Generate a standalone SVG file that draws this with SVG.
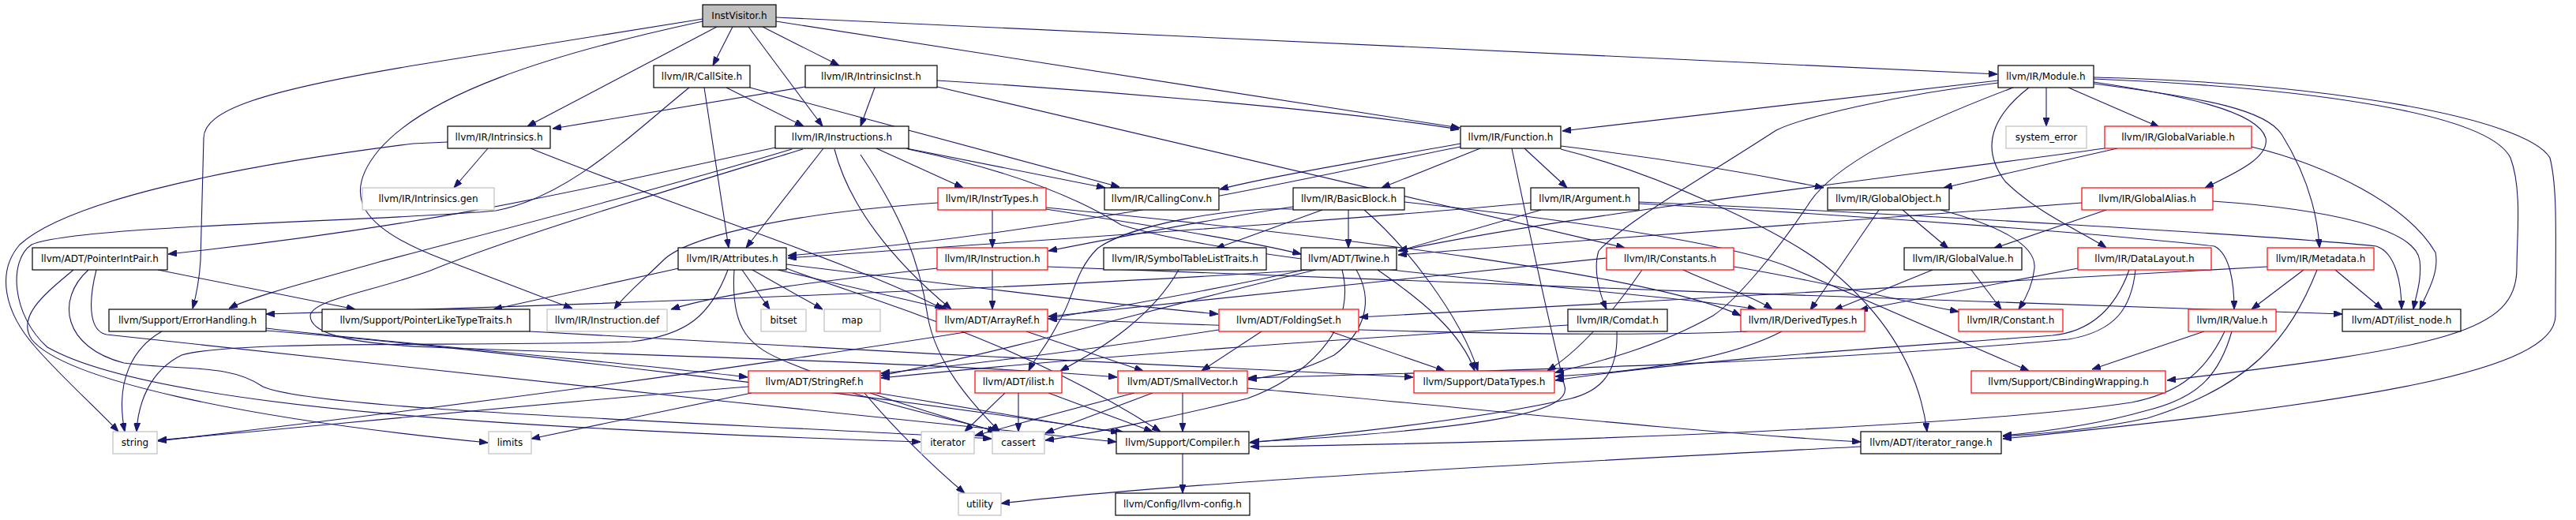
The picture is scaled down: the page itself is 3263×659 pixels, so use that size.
<svg xmlns="http://www.w3.org/2000/svg" width="3263" height="659" viewBox="0 0 3263 659">
<style>
rect{fill:#fff;stroke:#000;stroke-width:1.2}
rect.r{stroke:#ff0000}
rect.g{stroke:#bfbfbf}
rect.root{fill:#bfbfbf}
text{font-family:"DejaVu Sans",sans-serif;font-size:12px;text-anchor:middle;fill:#000}
#edges path{fill:none;stroke:#191970;stroke-width:1.1;marker-end:url(#a)}
</style>
<defs>
<marker id="a" markerWidth="11" markerHeight="8" refX="11" refY="4" orient="auto" markerUnits="userSpaceOnUse"><path d="M0,0 L11,4 L0,8 z" fill="#191970" stroke="#191970"/></marker>
</defs>
<rect x="0" y="0" width="3263" height="659" style="fill:#fff;stroke:none"/>
<g id="edges">
<!-- InstVisitor -->
<path d="M908,34 L668,160"/>
<path d="M928,34 L903,83"/>
<path d="M948,34 L1042,160"/>
<path d="M966,34 L1063,83"/>
<path d="M983,27 L1849,162"/>
<path d="M983,22 L2530,94"/>
<path d="M890,24 L530,82 C330,115 258,140 258,175 L254,330 Q252,362 244,391"/>
<path d="M890,27 C690,70 540,120 480,190 C430,250 460,290 560,328 L725,391"/>
<!-- CallSite -->
<path d="M920,111 L1018,160"/>
<path d="M892,111 L923,314"/>
<path d="M950,111 L1418,237"/>
<path d="M873,111 C800,170 720,250 628,267 C500,280 100,285 40,310 C10,330 15,400 60,440 C200,520 700,545 1166,560"/>
<!-- Intrinsics -->
<path d="M618,188 L575,238"/>
<path d="M672,188 C850,260 1100,340 1195,392"/>
<path d="M567,180 L523,182 C260,215 80,260 25,310 C-5,345 5,395 45,440 C80,480 120,515 150,547"/>
<!-- Instructions -->
<path d="M1110,188 L1220,238"/>
<path d="M1148,188 L1400,238"/>
<path d="M1043,188 L945,314"/>
<path d="M982,187 C760,235 560,285 213,322"/>
<path d="M1003,189 C800,250 600,300 480,332 C400,355 320,375 290,391"/>
<path d="M1017,189 C850,240 650,300 545,343 C470,370 395,380 393,400 C393,420 430,435 545,440 C800,450 1200,460 1415,478"/>
<path d="M1057,189 C1075,260 1130,330 1205,392"/>
<path d="M1090,196 C1140,270 1165,330 1175,400 C1185,460 1230,510 1266,547"/>
<path d="M1150,189 C1300,220 1380,260 1420,285 C1600,340 2100,370 2225,392"/>
<!-- IntrinsicInst -->
<path d="M1020,110 L700,163"/>
<path d="M1108,111 L1090,160"/>
<path d="M1187,102 C1400,115 1700,140 1848,164"/>
<path d="M1187,110 L2058,314"/>
<!-- Function -->
<path d="M1850,182 C1750,200 1600,225 1545,240"/>
<path d="M1850,186 C1700,215 1400,290 998,324"/>
<path d="M1875,188 L1750,238"/>
<path d="M1915,188 C1930,260 1960,400 1982,490 C1990,520 1900,540 1640,557 L1584,560"/>
<path d="M1931,188 L1985,238"/>
<path d="M1977,185 C2100,200 2220,220 2310,238"/>
<path d="M1977,189 C2100,220 2250,290 2310,335 C2380,390 2430,460 2441,547"/>
<!-- Module -->
<path d="M2531,102 L1979,166"/>
<path d="M2531,105 C2400,120 2280,150 2250,165 C2150,230 2060,280 2025,318 C2018,340 2025,370 2035,392"/>
<path d="M2550,111 C2420,160 2320,210 2290,260 C2250,320 2200,380 2170,400 C2100,440 2020,460 1970,472"/>
<path d="M2570,111 C2520,150 2510,190 2540,230 C2580,270 2640,295 2668,314"/>
<path d="M2592,111 L2592,160"/>
<path d="M2620,111 L2735,161"/>
<path d="M2652,104 C2760,120 2860,140 2870,175 C2875,200 2830,220 2793,238"/>
<path d="M2652,106 C2800,125 2870,140 2890,170 C2915,210 2935,260 2938,314"/>
<path d="M2652,100 C2900,110 3150,140 3180,200 C3195,240 3188,300 3188,340 C3188,420 3100,440 2745,482"/>
<path d="M2652,98 C2950,105 3200,150 3230,200 C3240,240 3237,300 3237,400 C3237,470 3000,510 2537,556"/>
<!-- GlobalVariable -->
<path d="M2682,188 L2462,238"/>
<path d="M2666,188 C2400,225 2000,270 1771,318"/>
<path d="M2852,186 C2950,210 3050,260 3085,320 C3090,345 3075,370 3065,392"/>
<!-- GlobalAlias -->
<path d="M2668,266 L2525,315"/>
<path d="M2803,255 C2950,265 3060,290 3065,330 C3068,355 3060,375 3057,392"/>
<path d="M2637,257 C2400,275 2000,305 1771,323"/>
<!-- GlobalObject -->
<path d="M2410,266 L2468,315"/>
<path d="M2380,266 L2293,393"/>
<path d="M2458,266 C2530,285 2580,310 2577,340 C2575,360 2565,380 2557,392"/>
<!-- GlobalValue -->
<path d="M2497,342 L2535,392"/>
<path d="M2448,342 L2323,393"/>
<!-- DataLayout -->
<path d="M2632,340 L2355,393"/>
<path d="M2697,342 C2680,390 2650,420 2600,425 C2400,440 2150,455 1970,482"/>
<path d="M2705,342 C2700,390 2680,420 2620,430 C2300,460 1900,470 1581,479"/>
<!-- Metadata -->
<path d="M2918,342 L2852,392"/>
<path d="M2958,342 L3018,392"/>
<path d="M2935,342 C2900,430 2850,490 2720,530 C2650,545 2580,550 2537,553"/>
<path d="M2872,338 C2600,355 2200,375 1722,402"/>
<!-- Value -->
<path d="M2792,420 L2650,468"/>
<path d="M2827,420 C2810,480 2780,505 2720,520 C2650,540 2580,548 2537,552"/>
<path d="M2818,420 C2790,480 2750,500 2700,510 C2500,540 2000,560 1584,566"/>
<!-- Argument -->
<path d="M1952,266 L1772,318"/>
<path d="M1939,257 C1700,280 1300,305 998,327"/>
<path d="M2076,256 C2400,270 2900,300 3010,312 C3035,320 3042,360 3042,392"/>
<path d="M2076,258 C2400,275 2700,300 2805,312 C2825,322 2830,360 2830,392"/>
<!-- BasicBlock -->
<path d="M1708,266 L1708,314"/>
<path d="M1638,262 C1550,275 1420,300 1328,318"/>
<path d="M1675,266 L1540,315"/>
<path d="M1728,266 C1780,310 1850,400 1872,470"/>
<path d="M1779,256 C2000,280 2200,310 2270,340 L2570,470"/>
<path d="M1638,265 C1560,262 1430,285 1390,315 C1360,345 1360,380 1340,410 C1325,440 1310,455 1303,470"/>
<!-- SymbolTableListTraits -->
<path d="M1493,342 C1460,400 1400,440 1343,470"/>
<!-- Twine -->
<path d="M1660,342 C1300,365 800,385 337,398"/>
<path d="M1667,342 C1500,380 1300,440 1116,476"/>
<path d="M1718,342 C1740,380 1730,420 1690,450 C1650,470 1620,476 1581,481"/>
<path d="M1745,342 C1800,380 1850,420 1868,470"/>
<path d="M1652,342 C1300,420 700,500 200,559"/>
<path d="M1700,342 C1720,420 1650,480 1580,505 C1480,530 1380,550 1324,558"/>
<!-- Comdat -->
<path d="M1986,412 C1700,430 1400,450 1116,479"/>
<path d="M2048,420 C2050,470 2030,495 1990,505 C1880,530 1700,550 1583,561"/>
<!-- Constants -->
<path d="M2035,327 C1800,350 1500,385 1328,401"/>
<path d="M2196,338 C2300,355 2400,380 2481,395"/>
<path d="M2132,342 C2170,360 2220,375 2245,392"/>
<path d="M2080,342 C2040,400 2000,445 1960,470"/>
<!-- DerivedTypes -->
<path d="M2257,420 C2200,450 2100,470 1970,477"/>
<path d="M2213,420 C2000,430 1600,415 1328,404"/>
<!-- FoldingSet -->
<path d="M1598,420 L1522,470"/>
<path d="M1685,420 L1830,470"/>
<path d="M1544,418 C1400,440 1250,460 1116,473"/>
<!-- PointerLikeTypeTraits -->
<path d="M671,420 C1000,440 1500,465 1790,478"/>
<!-- Attributes -->
<path d="M860,340 L625,392"/>
<path d="M922,342 C900,400 870,425 800,433 C600,440 300,430 230,450 C190,470 175,510 173,547"/>
<path d="M930,342 C925,420 950,440 1000,460 C1100,500 1200,530 1262,547"/>
<path d="M996,340 C1100,380 1290,430 1470,547"/>
<path d="M996,335 C1200,360 1400,385 1543,398"/>
<path d="M985,342 L1200,392"/>
<path d="M940,342 L975,392"/>
<path d="M953,342 L1042,392"/>
<!-- PointerIntPair -->
<path d="M200,342 L450,392"/>
<path d="M93,342 C60,370 20,400 40,430 C80,480 300,530 618,561"/>
<path d="M112,342 C70,380 80,440 157,460 C230,470 290,460 333,490 C400,520 900,535 1256,556"/>
<path d="M122,342 C110,390 115,420 135,424 C400,450 1000,520 1414,560"/>
<!-- ErrorHandling -->
<path d="M205,420 C170,440 145,480 158,547"/>
<path d="M337,416 C500,435 800,460 947,478"/>
<path d="M337,419 C600,440 1100,500 1418,548"/>
<!-- StringRef -->
<path d="M948,490 C700,510 400,540 200,558"/>
<path d="M952,498 L673,556"/>
<path d="M1095,498 C1130,540 1180,590 1222,625"/>
<path d="M1080,498 C1150,520 1220,535 1264,547"/>
<path d="M1110,498 C1250,520 1350,540 1424,548"/>
<!-- ilist -->
<path d="M1273,498 L1222,547"/>
<path d="M1290,498 L1290,547"/>
<path d="M1328,498 L1460,547"/>
<!-- SmallVector -->
<path d="M1437,498 C1350,520 1280,540 1235,552"/>
<path d="M1460,498 L1324,549"/>
<path d="M1498,498 L1498,547"/>
<path d="M1580,492 C1800,510 2100,545 2357,560"/>
<!-- ArrayRef -->
<path d="M1300,420 L1448,470"/>
<!-- Instruction -->
<path d="M1257,342 L1257,392"/>
<path d="M1187,340 C1050,355 920,370 850,392"/>
<path d="M1327,338 C1800,360 2500,380 2967,398"/>
<!-- InstrTypes -->
<path d="M1257,266 L1257,314"/>
<path d="M1188,257 C1000,270 870,300 840,330 C820,350 790,375 778,392"/>
<path d="M1325,263 C1700,300 2100,350 2205,400"/>
<path d="M1325,265 C1450,285 1580,305 1648,322"/>
<!-- iterator_range -->
<path d="M2357,566 C2000,585 1500,610 1268,638"/>
<!-- Compiler -->
<path d="M1498,575 L1498,625"/>
</g>
<g id="n_InstVisitor"><rect class="root" x="890" y="6" width="93" height="28"/><text x="936.5" y="24">InstVisitor.h</text></g>
<g id="n_CallSite"><rect x="828" y="83" width="122" height="28"/><text x="889" y="101">llvm/IR/CallSite.h</text></g>
<g id="n_IntrinsicInst"><rect x="1020" y="83" width="167" height="28"/><text x="1103.5" y="101">llvm/IR/IntrinsicInst.h</text></g>
<g id="n_Module"><rect x="2531" y="83" width="121" height="28"/><text x="2591.5" y="101">llvm/IR/Module.h</text></g>
<g id="n_Intrinsics"><rect x="567" y="160" width="130" height="28"/><text x="632" y="178">llvm/IR/Intrinsics.h</text></g>
<g id="n_Instructions"><rect x="982" y="160" width="169" height="28"/><text x="1066.5" y="178">llvm/IR/Instructions.h</text></g>
<g id="n_Function"><rect x="1850" y="160" width="127" height="28"/><text x="1913.5" y="178">llvm/IR/Function.h</text></g>
<g id="n_system_error"><rect class="g" x="2541" y="160" width="102" height="28"/><text x="2592" y="178">system_error</text></g>
<g id="n_GlobalVariable"><rect class="r" x="2666" y="160" width="186" height="28"/><text x="2759" y="178">llvm/IR/GlobalVariable.h</text></g>
<g id="n_Intrinsics_gen"><rect class="g" x="459" y="238" width="167" height="28"/><text x="542.5" y="256">llvm/IR/Intrinsics.gen</text></g>
<g id="n_InstrTypes"><rect class="r" x="1188" y="238" width="137" height="28"/><text x="1256.5" y="256">llvm/IR/InstrTypes.h</text></g>
<g id="n_CallingConv"><rect x="1399" y="238" width="145" height="28"/><text x="1471.5" y="256">llvm/IR/CallingConv.h</text></g>
<g id="n_BasicBlock"><rect x="1638" y="238" width="141" height="28"/><text x="1708.5" y="256">llvm/IR/BasicBlock.h</text></g>
<g id="n_Argument"><rect x="1939" y="238" width="137" height="28"/><text x="2007.5" y="256">llvm/IR/Argument.h</text></g>
<g id="n_GlobalObject"><rect x="2315" y="238" width="154" height="28"/><text x="2392" y="256">llvm/IR/GlobalObject.h</text></g>
<g id="n_GlobalAlias"><rect class="r" x="2637" y="238" width="166" height="28"/><text x="2720" y="256">llvm/IR/GlobalAlias.h</text></g>
<g id="n_PointerIntPair"><rect x="41" y="314" width="171" height="28"/><text x="126.5" y="332">llvm/ADT/PointerIntPair.h</text></g>
<g id="n_Attributes"><rect x="859" y="314" width="137" height="28"/><text x="927.5" y="332">llvm/IR/Attributes.h</text></g>
<g id="n_Instruction"><rect class="r" x="1187" y="314" width="140" height="28"/><text x="1257" y="332">llvm/IR/Instruction.h</text></g>
<g id="n_SymbolTableListTraits"><rect x="1398" y="314" width="206" height="28"/><text x="1501" y="332">llvm/IR/SymbolTableListTraits.h</text></g>
<g id="n_Twine"><rect x="1648" y="314" width="121" height="28"/><text x="1708.5" y="332">llvm/ADT/Twine.h</text></g>
<g id="n_Constants"><rect class="r" x="2035" y="314" width="161" height="28"/><text x="2115.5" y="332">llvm/IR/Constants.h</text></g>
<g id="n_GlobalValue"><rect x="2412" y="314" width="149" height="28"/><text x="2486.5" y="332">llvm/IR/GlobalValue.h</text></g>
<g id="n_DataLayout"><rect class="r" x="2632" y="314" width="169" height="28"/><text x="2716.5" y="332">llvm/IR/DataLayout.h</text></g>
<g id="n_Metadata"><rect class="r" x="2872" y="314" width="135" height="28"/><text x="2939.5" y="332">llvm/IR/Metadata.h</text></g>
<g id="n_ErrorHandling"><rect x="138" y="392" width="199" height="28"/><text x="237.5" y="410">llvm/Support/ErrorHandling.h</text></g>
<g id="n_PointerLikeTypeTraits"><rect x="408" y="392" width="263" height="28"/><text x="539.5" y="410">llvm/Support/PointerLikeTypeTraits.h</text></g>
<g id="n_Instruction_def"><rect class="g" x="693" y="392" width="152" height="28"/><text x="769" y="410">llvm/IR/Instruction.def</text></g>
<g id="n_bitset"><rect class="g" x="964" y="392" width="57" height="28"/><text x="992.5" y="410">bitset</text></g>
<g id="n_map"><rect class="g" x="1044" y="392" width="71" height="28"/><text x="1079.5" y="410">map</text></g>
<g id="n_ArrayRef"><rect class="r" x="1186" y="392" width="141" height="28"/><text x="1256.5" y="410">llvm/ADT/ArrayRef.h</text></g>
<g id="n_FoldingSet"><rect class="r" x="1544" y="392" width="177" height="28"/><text x="1632.5" y="410">llvm/ADT/FoldingSet.h</text></g>
<g id="n_Comdat"><rect x="1986" y="392" width="126" height="28"/><text x="2049" y="410">llvm/IR/Comdat.h</text></g>
<g id="n_DerivedTypes"><rect class="r" x="2205" y="392" width="157" height="28"/><text x="2283.5" y="410">llvm/IR/DerivedTypes.h</text></g>
<g id="n_Constant"><rect class="r" x="2481" y="392" width="132" height="28"/><text x="2547" y="410">llvm/IR/Constant.h</text></g>
<g id="n_Value"><rect class="r" x="2772" y="392" width="111" height="28"/><text x="2827.5" y="410">llvm/IR/Value.h</text></g>
<g id="n_ilist_node"><rect x="2967" y="392" width="150" height="28"/><text x="3042" y="410">llvm/ADT/ilist_node.h</text></g>
<g id="n_StringRef"><rect class="r" x="948" y="470" width="167" height="28"/><text x="1031.5" y="488">llvm/ADT/StringRef.h</text></g>
<g id="n_ilist"><rect class="r" x="1235" y="470" width="110" height="28"/><text x="1290" y="488">llvm/ADT/ilist.h</text></g>
<g id="n_SmallVector"><rect class="r" x="1416" y="470" width="164" height="28"/><text x="1498" y="488">llvm/ADT/SmallVector.h</text></g>
<g id="n_DataTypes"><rect class="r" x="1791" y="470" width="178" height="28"/><text x="1880" y="488">llvm/Support/DataTypes.h</text></g>
<g id="n_CBindingWrapping"><rect class="r" x="2497" y="470" width="246" height="28"/><text x="2620" y="488">llvm/Support/CBindingWrapping.h</text></g>
<g id="n_string"><rect class="g" x="143" y="547" width="56" height="28"/><text x="171" y="565">string</text></g>
<g id="n_limits"><rect class="g" x="619" y="547" width="54" height="28"/><text x="646" y="565">limits</text></g>
<g id="n_iterator"><rect class="g" x="1167" y="547" width="67" height="28"/><text x="1200.5" y="565">iterator</text></g>
<g id="n_cassert"><rect class="g" x="1257" y="547" width="66" height="28"/><text x="1290" y="565">cassert</text></g>
<g id="n_Compiler"><rect x="1414" y="547" width="168" height="28"/><text x="1498" y="565">llvm/Support/Compiler.h</text></g>
<g id="n_iterator_range"><rect x="2357" y="547" width="178" height="28"/><text x="2446" y="565">llvm/ADT/iterator_range.h</text></g>
<g id="n_utility"><rect class="g" x="1214" y="625" width="54" height="28"/><text x="1241" y="643">utility</text></g>
<g id="n_llvm_config"><rect x="1413" y="625" width="170" height="28"/><text x="1498" y="643">llvm/Config/llvm-config.h</text></g>
</svg>
